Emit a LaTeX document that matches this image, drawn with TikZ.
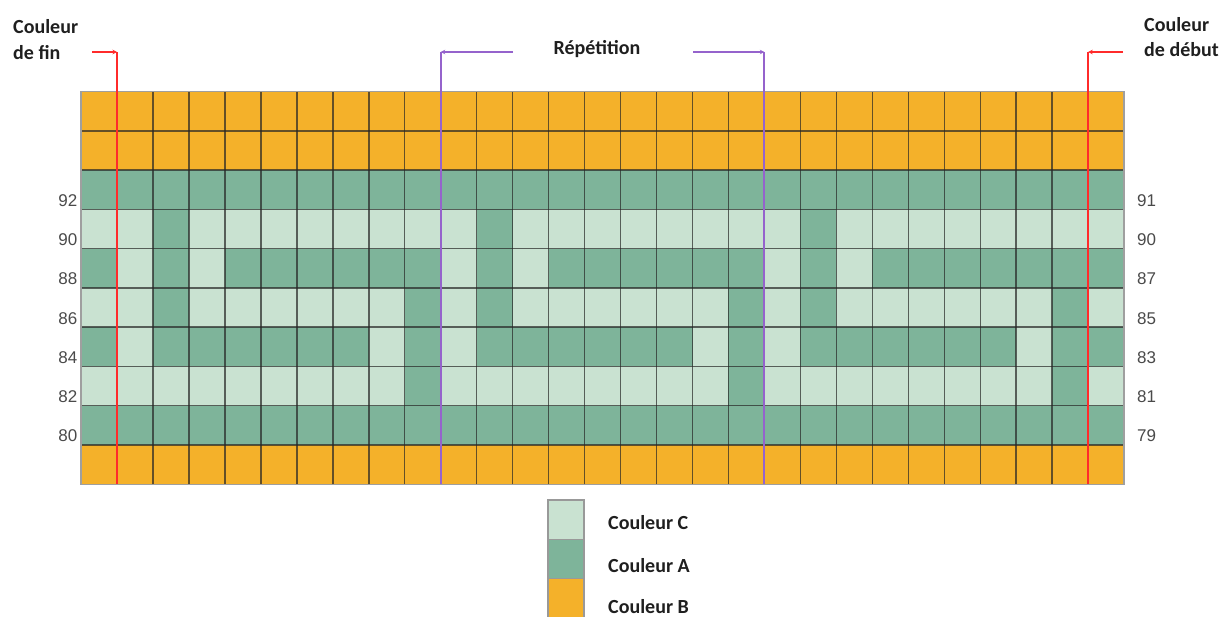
\documentclass[tikz,border=0pt]{standalone}
\usepackage{fontspec}
\setmainfont{Carlito}
\newfontfamily\numfont{Liberation Sans}
\usetikzlibrary{arrows.meta}
\definecolor{colB}{HTML}{F4B12A}
\definecolor{colA}{HTML}{7EB49A}
\definecolor{colC}{HTML}{C9E2D1}
\definecolor{redline}{HTML}{FF2B2B}
\definecolor{purpline}{HTML}{9563CC}
\definecolor{numgray}{HTML}{4A4A4A}
\newcommand{\cellrow}[2]{%
  \foreach \cl [count=\i from 0] in {#2}{%
    \fill[fill=col\cl] ({81+\i*35.97},{91.7+#1*39.25}) rectangle ++(35.97,39.25);
  }}
\tikzset{
  gridline/.style={draw=black!85, line width=1.5pt, opacity=0.7},
  title/.style={font=\bfseries\fontsize{20}{24}\selectfont, text=black!88, inner sep=0pt},
  rownum/.style={font=\numfont\fontsize{17}{20}\selectfont, text=numgray, inner sep=0pt},
  redmark/.style={draw=redline, line width=2pt},
  purplemark/.style={draw=purpline, line width=2pt},
  smalltip/.style={-{Stealth[length=4.5pt,width=4.5pt]}},
  legbox/.style={draw=gray!80, line width=1.2pt, minimum width=36pt, minimum height=39.3pt, inner sep=0pt},
}
\begin{document}
\begin{tikzpicture}[x=1pt,y=-1pt]
\useasboundingbox (0,0) rectangle (1225,616);
% cells
\cellrow{0}{B,B,B,B,B,B,B,B,B,B,B,B,B,B,B,B,B,B,B,B,B,B,B,B,B,B,B,B,B}
\cellrow{1}{B,B,B,B,B,B,B,B,B,B,B,B,B,B,B,B,B,B,B,B,B,B,B,B,B,B,B,B,B}
\cellrow{2}{A,A,A,A,A,A,A,A,A,A,A,A,A,A,A,A,A,A,A,A,A,A,A,A,A,A,A,A,A}
\cellrow{3}{C,C,A,C,C,C,C,C,C,C,C,A,C,C,C,C,C,C,C,C,A,C,C,C,C,C,C,C,C}
\cellrow{4}{A,C,A,C,A,A,A,A,A,A,C,A,C,A,A,A,A,A,A,C,A,C,A,A,A,A,A,A,A}
\cellrow{5}{C,C,A,C,C,C,C,C,C,A,C,A,C,C,C,C,C,C,A,C,A,C,C,C,C,C,C,A,C}
\cellrow{6}{A,C,A,A,A,A,A,A,C,A,C,A,A,A,A,A,A,C,A,C,A,A,A,A,A,A,C,A,A}
\cellrow{7}{C,C,C,C,C,C,C,C,C,A,C,C,C,C,C,C,C,C,A,C,C,C,C,C,C,C,C,A,C}
\cellrow{8}{A,A,A,A,A,A,A,A,A,A,A,A,A,A,A,A,A,A,A,A,A,A,A,A,A,A,A,A,A}
\cellrow{9}{B,B,B,B,B,B,B,B,B,B,B,B,B,B,B,B,B,B,B,B,B,B,B,B,B,B,B,B,B}
% grid lines
\foreach \i in {1,...,28} \draw[gridline] ({81+\i*35.97},91.7) -- ++(0,392.5);
\foreach \j in {1,...,9} \draw[gridline] (81,{91.7+\j*39.25}) -- ++(1043.1,0);
\draw[draw=gray!75, line width=1.4pt] (81,91.7) rectangle (1124.1,484.2);
% row numbers
\foreach \r/\l/\rr in {2/92/91,3/90/90,4/88/87,5/86/85,6/84/83,7/82/81,8/80/79}{
  \node[rownum, anchor=east] (L\l) at (77.5,{91.7+(\r+1)*39.25-9}) {\l};
  \node[rownum, anchor=west] (R\rr) at (1137,{91.7+(\r+1)*39.25-9}) {\rr};
}
% titles
\node[title, anchor=base west] (fin1) at (13,33) {Couleur};
\node[title, anchor=base west] (fin2) at (13,59.5) {de fin};
\node[title, anchor=base west] (deb1) at (1144,31.5) {Couleur};
\node[title, anchor=base west] (deb2) at (1144,56) {de début};
\node[title, anchor=base] (rep) at (597,54) {Répétition};
% markers
\coordinate (finTop) at (117,52);
\coordinate (finBot) at (117,484.2);
\coordinate (finStart) at (92,52);
\coordinate (debTop) at (1088.2,52);
\coordinate (debBot) at (1088.2,484.2);
\coordinate (debStart) at (1123,52);
\coordinate (repLTop) at (440.7,52);
\coordinate (repLBot) at (440.7,484.2);
\coordinate (repLStart) at (513,52);
\coordinate (repRTop) at (764.4,52);
\coordinate (repRBot) at (764.4,484.2);
\coordinate (repRStart) at (693,52);
\draw[redmark] (finTop) -- (finBot);
\draw[redmark, smalltip] (finStart) -- (finTop);
\draw[redmark] (debTop) -- (debBot);
\draw[redmark, smalltip] (debStart) -- (debTop);
\draw[purplemark] (repLTop) -- (repLBot);
\draw[purplemark, smalltip] (repLStart) -- (repLTop);
\draw[purplemark] (repRTop) -- (repRBot);
\draw[purplemark, smalltip] (repRStart) -- (repRTop);
% legend
\node[legbox, fill=colC] (legC) at (566,519.65) {};
\node[legbox, fill=colA] (legA) at (566,558.95) {};
\node[legbox, fill=colB] (legB) at (566,598.25) {};
\node[title, anchor=base west] (txtC) at (608,529) {Couleur C};
\node[title, anchor=base west] (txtA) at (608,572) {Couleur A};
\node[title, anchor=base west] (txtB) at (608,613) {Couleur B};
\end{tikzpicture}
\end{document}
